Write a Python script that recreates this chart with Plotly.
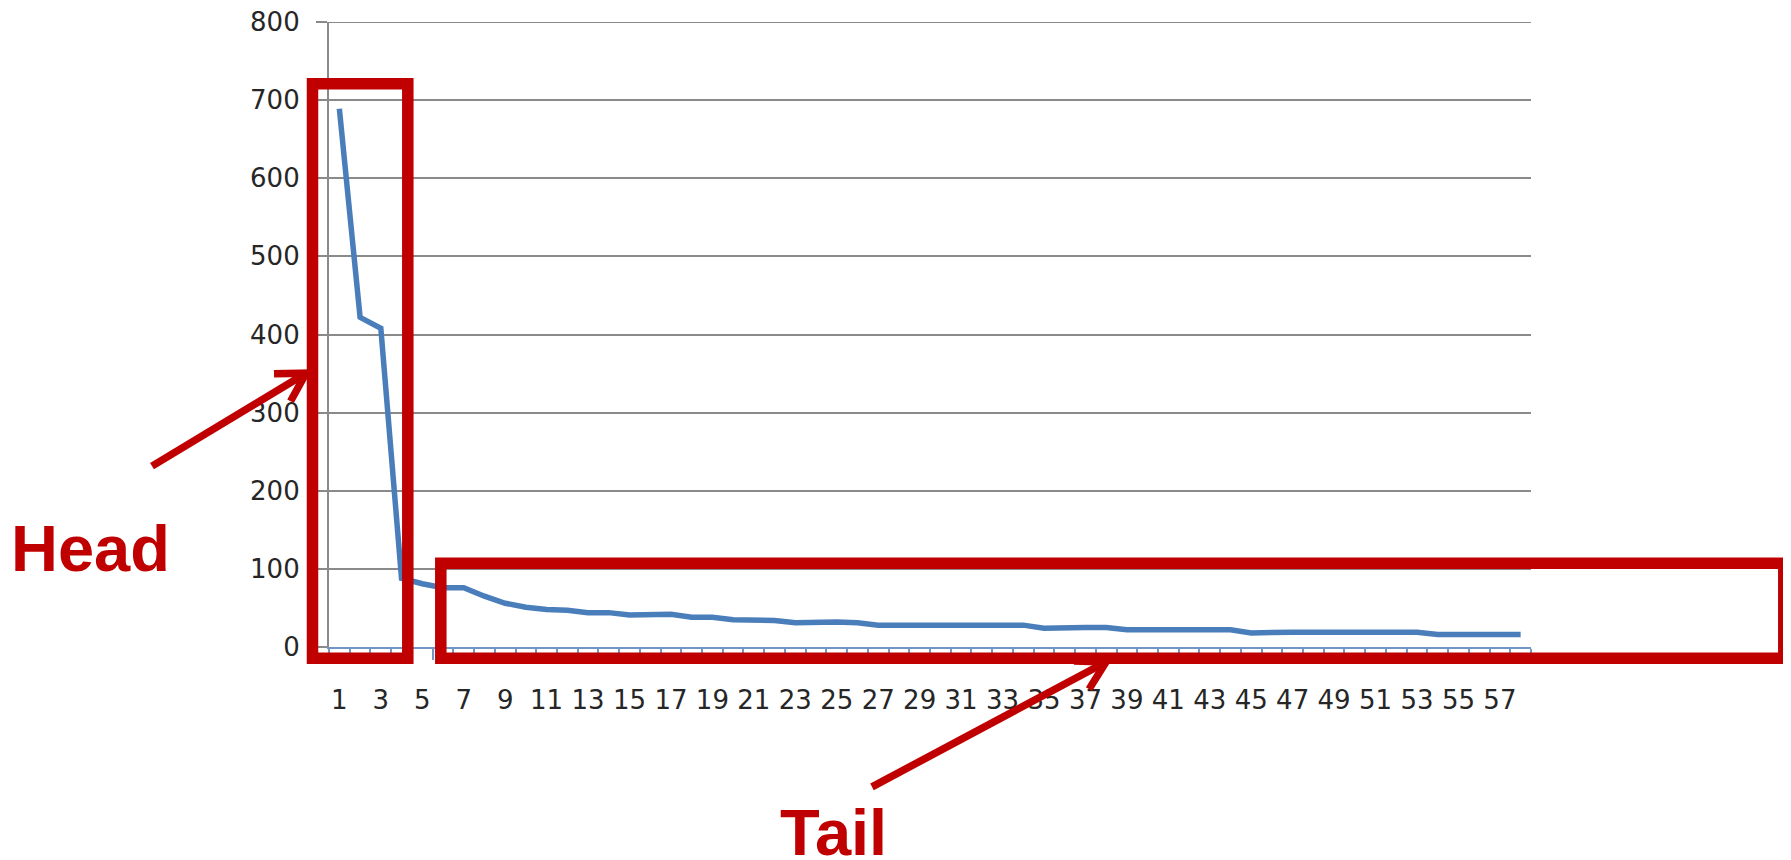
import math
import plotly.graph_objects as go

# ---- data ----
categories = list(range(1, 59))
values = [689, 422, 408, 88, 81, 76, 76, 65, 56, 51,
          48, 47, 44, 44, 41, 42, 42, 38, 38, 35,
          35, 34, 31, 32, 32, 31, 28, 28, 28, 28,
          28, 28, 28, 28, 24, 25, 25, 25, 22, 22,
          22, 22, 22, 22, 18, 19, 19, 19, 19, 19,
          19, 19, 19, 16, 16, 16, 16, 16]
x_tick_values = list(range(1, 58, 2))
x_tick_labels = [str(v) for v in x_tick_values]
y_tick_values = list(range(0, 801, 100))
head_label = "Head"
tail_label = "Tail"

# ---- layout geometry (page pixels; the page body has an 8px margin) ----
OFF = 8
PW, PH = 1791, 860
FW, FH = PW - OFF, PH - OFF
L, R, T, B = 329, 1531, 21.5, 647
W, H = R - L, B - T


def px(x):
    return (x - L) / W


def py(y):
    return (B - y) / H


RED = "#c00000"
GRID = "#8a8a8a"
AXBLUE = "#7396c8"

fig = go.Figure()
fig.add_trace(go.Scatter(
    x=categories, y=values, mode="lines",
    line=dict(color="#4a7ebb", width=5.5),
    hoverinfo="skip", showlegend=False,
))

shapes = []
# top gridline (plotly omits the gridline at the range edge)
shapes.append(dict(type="line", xref="paper", yref="y",
                   x0=px(318), x1=1, y0=y_tick_values[-1], y1=y_tick_values[-1],
                   line=dict(color=GRID, width=2.2), layer="below"))


def box(x0, y0, x1, y1, w):
    shapes.append(dict(type="rect", xref="paper", yref="paper",
                       x0=px(x0), x1=px(x1), y0=py(y1), y1=py(y0),
                       line=dict(color=RED, width=w), layer="above"))


def arrow(tip, tail, w, blen=32, ang=30):
    tx, ty = tip
    ux, uy = tail[0] - tx, tail[1] - ty
    n = math.hypot(ux, uy)
    ux, uy = ux / n, uy / n
    pts = []
    for a in (ang, -ang):
        c, s = math.cos(math.radians(a)), math.sin(math.radians(a))
        pts.append((tx + blen * (ux * c - uy * s), ty + blen * (ux * s + uy * c)))
    shapes.append(dict(type="path", xref="paper", yref="paper",
                       path=f"M {px(tail[0])},{py(tail[1])} L {px(tx)},{py(ty)}",
                       line=dict(color=RED, width=w), layer="above"))
    shapes.append(dict(type="path", xref="paper", yref="paper",
                       path=(f"M {px(pts[0][0])},{py(pts[0][1])} L {px(tx)},{py(ty)} "
                             f"L {px(pts[1][0])},{py(pts[1][1])}"),
                       line=dict(color=RED, width=w), layer="above"))


box(312.5, 83.3, 407.8, 658.3, 11.5)
box(440.8, 563.3, 1783.8, 658.3, 11.5)
arrow((306, 373), (152, 466), 7.5)
arrow((1106, 662), (872, 787), 7.5)

annotations = [
    dict(text=head_label, xref="paper", yref="paper", x=px(9), y=py(548.5),
         xanchor="left", yanchor="middle", showarrow=False,
         font=dict(family="Liberation Sans", size=65, color=RED, weight="bold")),
    dict(text=tail_label, xref="paper", yref="paper", x=px(778), y=py(833),
         xanchor="left", yanchor="middle", showarrow=False,
         font=dict(family="Liberation Sans", size=65, color=RED, weight="bold")),
]

tickfont = dict(family="DejaVu Sans", size=26, color="#262626")

fig.update_layout(
    width=FW, height=FH,
    margin=dict(l=L - OFF, r=FW - (R - OFF), t=T - OFF, b=FH - (B - OFF), pad=0,
                autoexpand=False),
    paper_bgcolor="white", plot_bgcolor="white",
    shapes=shapes, annotations=annotations,
    showlegend=False,
    xaxis=dict(
        range=[0.5, 58.5], tickmode="array", tickvals=x_tick_values,
        ticktext=x_tick_labels, ticks="", showgrid=False, zeroline=False,
        showline=True, linecolor=AXBLUE, linewidth=2,
        tickfont=tickfont, ticklabelstandoff=29, automargin=False,
        ticklabeloverflow="allow",
        minor=dict(tickmode="linear", tick0=0.5, dtick=1, ticks="outside",
                   ticklen=11, tickwidth=2, tickcolor=AXBLUE, showgrid=False),
        fixedrange=True,
    ),
    yaxis=dict(
        range=[0, 800], tickmode="array", tickvals=y_tick_values,
        showgrid=True, gridcolor=GRID, gridwidth=2.2, zeroline=False,
        showline=True, linecolor=GRID, linewidth=2.2,
        ticks="outside", ticklen=11, tickwidth=2.2, tickcolor=GRID,
        tickfont=tickfont, ticklabelstandoff=11, automargin=False,
        ticklabeloverflow="allow",
        fixedrange=True,
    ),
)

fig.write_html("out.html", config=dict(displayModeBar=False))
